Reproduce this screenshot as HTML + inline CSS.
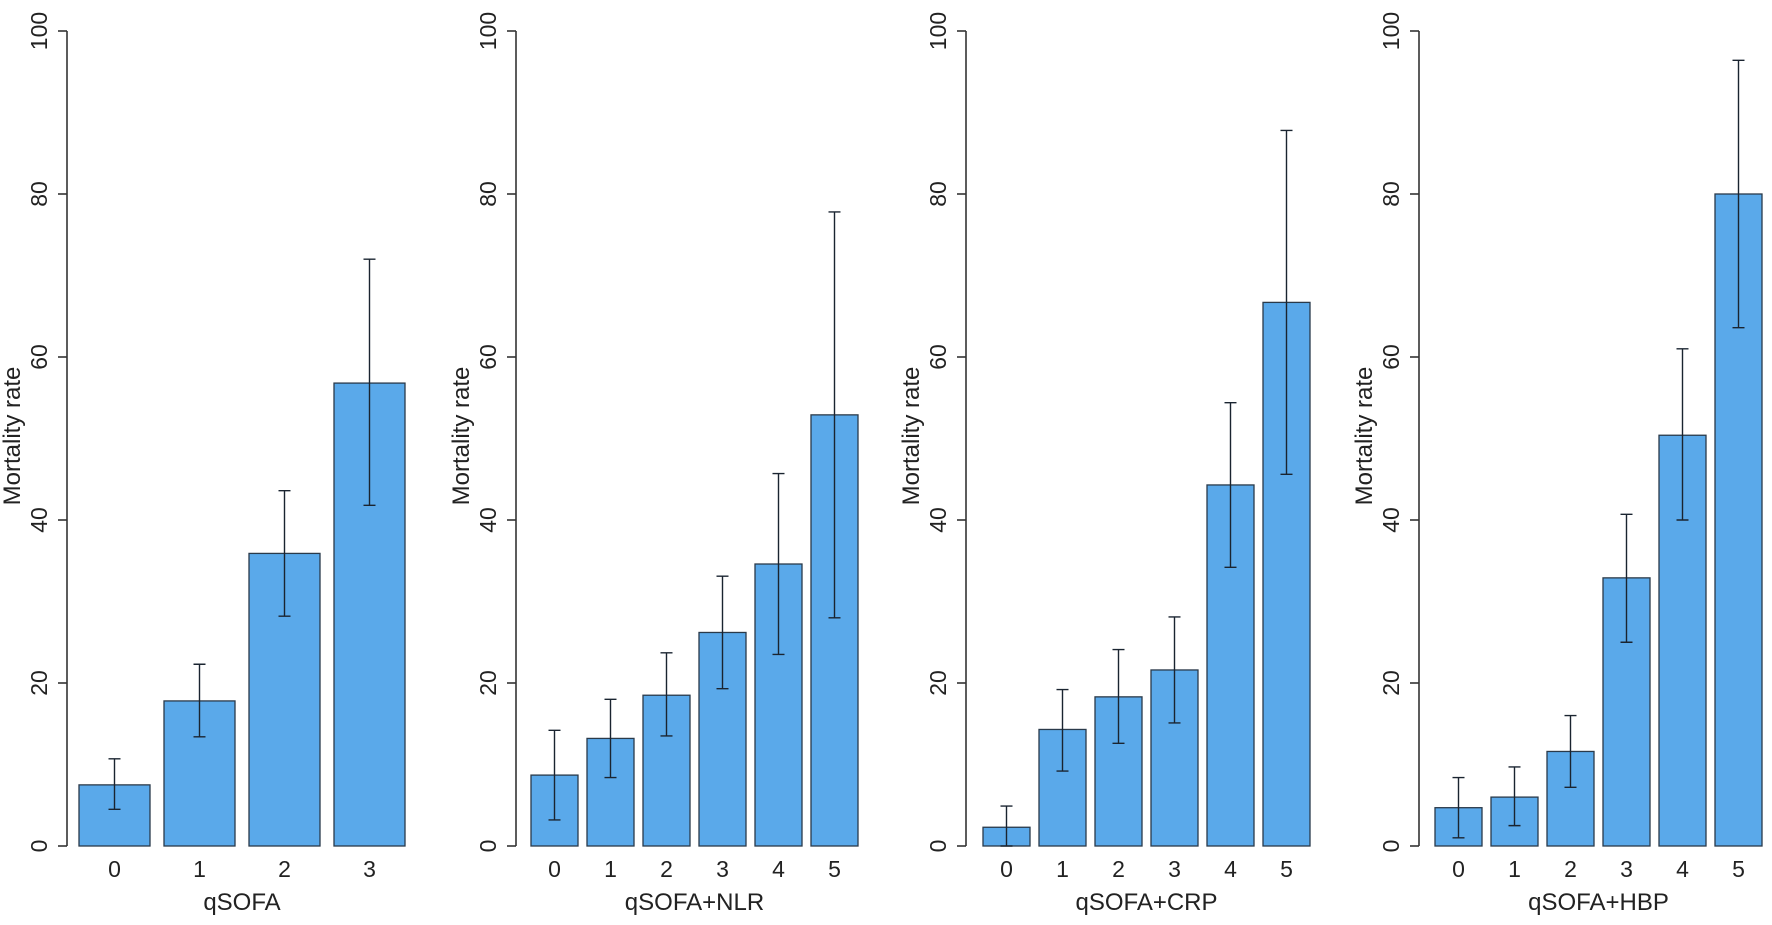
<!DOCTYPE html>
<html><head><meta charset="utf-8"><style>
html,body{margin:0;padding:0;background:#fff;}
svg{display:block;font-family:"Liberation Sans",sans-serif;}
</style></head><body>
<svg id="chart" width="1772" height="925" viewBox="0 0 1772 925"></svg>
<script>
const panelTitles = ["qSOFA","qSOFA+NLR","qSOFA+CRP","qSOFA+HBP"];
const categories1 = ["0","1","2","3"];
const categories2 = ["0","1","2","3","4","5"];
const rates1 = [7.5,17.8,35.9,56.8];
const lower1 = [4.5,13.4,28.2,41.8];
const upper1 = [10.7,22.3,43.6,72.0];
const rates2 = [8.7,13.2,18.5,26.2,34.6,52.9];
const lower2 = [3.2,8.4,13.5,19.3,23.5,28.0];
const upper2 = [14.2,18.0,23.7,33.1,45.7,77.8];
const rates3 = [2.3,14.3,18.3,21.6,44.3,66.7];
const lower3 = [0.0,9.2,12.6,15.1,34.2,45.6];
const upper3 = [4.9,19.2,24.1,28.1,54.4,87.8];
const rates4 = [4.7,6.0,11.6,32.9,50.4,80.0];
const lower4 = [1.0,2.5,7.2,25.0,40.0,63.6];
const upper4 = [8.4,9.7,16.0,40.7,61.0,96.4];
const yTicks = [0,20,40,60,80,100];

const NS="http://www.w3.org/2000/svg";
const svg=document.getElementById('chart');
function mk(tag,attrs,parent){const e=document.createElementNS(NS,tag);for(const k in attrs)e.setAttribute(k,attrs[k]);(parent||svg).appendChild(e);return e;}
const y0=846, y100=31;
function yScale(v){return y0-(v/100)*(y0-y100);}
const layouts=[
 {axisX:67,start:79,w:71,step:85,cats:categories1,r:rates1,lo:lower1,hi:upper1},
 {axisX:516,start:531,w:47,step:56,cats:categories2,r:rates2,lo:lower2,hi:upper2},
 {axisX:966,start:983,w:47,step:56,cats:categories2,r:rates3,lo:lower3,hi:upper3},
 {axisX:1419,start:1435,w:47,step:56,cats:categories2,r:rates4,lo:lower4,hi:upper4}
];
layouts.forEach((L,p)=>{
  const g=mk('g',{});
  
  
  const ax=mk('line',{x1:L.axisX,y1:yScale(0),x2:L.axisX,y2:yScale(100),stroke:'#333','stroke-width':1.6},g);
  
  
  yTicks.forEach(t=>{
    const y=yScale(t);
    const tk=mk('line',{x1:L.axisX-9,y1:y,x2:L.axisX,y2:y,stroke:'#333','stroke-width':1.6},g);
    
    
    const tx=mk('text',{x:0,y:0,transform:`translate(${L.axisX-20},${y}) rotate(-90)`,'text-anchor':'middle','font-size':23,fill:'#222'},g);
    tx.textContent=t;
    
    
  });
  const yt=mk('text',{x:0,y:0,transform:`translate(${L.axisX-47},436) rotate(-90)`,'text-anchor':'middle','font-size':24,fill:'#222'},g);
  yt.textContent='Mortality rate';
  
  
  L.cats.forEach((c,i)=>{
    const x=L.start+i*L.step, cx=x+L.w/2;
    const b=mk('rect',{x:x,y:yScale(L.r[i]),width:L.w,height:yScale(0)-yScale(L.r[i]),fill:'#5aa9ea',stroke:'#2a3a4a','stroke-width':1.3},g);
    
    
    const eb=mk('path',{d:`M${cx},${yScale(L.lo[i])}V${yScale(L.hi[i])}M${cx-6},${yScale(L.lo[i])}H${cx+6}M${cx-6},${yScale(L.hi[i])}H${cx+6}`,stroke:'#1a2430','stroke-width':1.4,fill:'none'},g);
    
    
    const xl=mk('text',{x:cx,y:877,'text-anchor':'middle','font-size':23,fill:'#222'},g);
    xl.textContent=c;
    
    
  });
  const n=L.cats.length;
  const mid=(L.start+L.start+(n-1)*L.step+L.w)/2;
  const xt=mk('text',{x:mid,y:910,'text-anchor':'middle','font-size':24,fill:'#222'},g);
  xt.textContent=panelTitles[p];
  
  
});
</script>
</body></html>
